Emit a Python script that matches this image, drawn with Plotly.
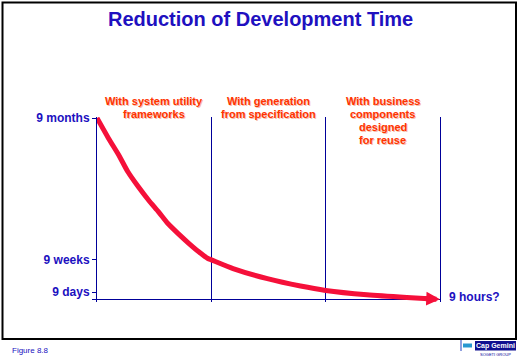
import plotly.graph_objects as go

# ---------------- data ----------------
phase_x = [0.5, 1.5, 2.5]
phase_labels = [
    ["With system utility", "frameworks"],
    ["With generation", "from specification"],
    ["With business", "components", "designed", "for reuse"],
]
boundary_x = [1, 2]
level_vals = [270, 59, 11, 0]
level_text = ["9 months", "9 weeks", "9 days", ""]
curve_x = [0, 0.1, 0.19, 0.27, 0.36, 0.45, 0.54, 0.62, 0.71, 0.8, 0.89, 0.97, 1.0,
           1.19, 1.49, 1.78, 2.0, 2.36, 2.71, 2.9]
curve_y = [270, 240, 215, 190, 168, 148, 130, 113, 98, 84, 71, 61, 59,
           46, 31, 20, 13.5, 7, 3, 1.3]
end_label = "9 hours?"
title_text = "Reduction of Development Time"
figure_label = "Figure 8.8"

# ---------------- layout geometry (pixels) ----------------
W, H = 519, 359
L, R, T, B = 97, 440, 117, 302
X0, X1 = 0, 3
Y_BASE_PX, Y_TOP_PX, Y_TOP_VAL = 299.5, 118, 270
ppu = (Y_BASE_PX - Y_TOP_PX) / Y_TOP_VAL
y_min = -(B - Y_BASE_PX) / ppu
y_max = Y_TOP_VAL + (Y_TOP_PX - T) / ppu


def px_x(px):
    return (px - L) / (R - L)


def px_y(py):
    return (B - py) / (B - T)


FONT = "Liberation Sans, Arial, sans-serif"
BLUE = "#2010C0"
NAVY = "#000099"
RED_TXT = "#FF3300"
RED_LINE = "#F5103A"

fig = go.Figure()
fig.add_trace(go.Scatter(
    x=curve_x, y=curve_y, mode="lines",
    line=dict(color=RED_LINE, width=5, shape="spline", smoothing=0.6),
    hoverinfo="skip", showlegend=False,
))

annotations = []
# arrow head
annotations.append(dict(
    x=3.0, y=0.3, ax=2.85, ay=1.4, xref="x", yref="y", axref="x", ayref="y",
    text="", showarrow=True, arrowhead=2, arrowsize=0.55, arrowwidth=5,
    arrowcolor=RED_LINE, standoff=0,
))
# title
annotations.append(dict(
    x=px_x(260), y=px_y(19), xref="paper", yref="paper", text=title_text,
    showarrow=False, xanchor="center", yanchor="middle",
    font=dict(family=FONT, size=20, color=BLUE, weight="bold"),
))
# phase labels
for px_c, lines in zip(phase_x, phase_labels):
    for i, line in enumerate(lines):
        annotations.append(dict(
            x=px_c, y=px_y(101 + 13 * i), xref="x", yref="paper", text=line,
            showarrow=False, xanchor="center", yanchor="middle",
            font=dict(family=FONT, size=11, color=RED_TXT, weight="bold",
                      shadow="1px 1px 0px #F5C0B0"),
        ))
# end label
annotations.append(dict(
    x=px_x(447), y=px_y(297), xref="paper", yref="paper", text=end_label,
    showarrow=False, xanchor="left", yanchor="middle",
    font=dict(family=FONT, size=12, color=BLUE, weight="bold"),
))
# figure label
annotations.append(dict(
    x=px_x(10), y=px_y(350), xref="paper", yref="paper", text=figure_label,
    showarrow=False, xanchor="left", yanchor="middle",
    font=dict(family=FONT, size=8, color=BLUE),
))
# logo text
annotations.append(dict(
    x=px_x(495.5), y=px_y(345.5), xref="paper", yref="paper", text="Cap Gemini",
    showarrow=False, xanchor="center", yanchor="middle",
    font=dict(family=FONT, size=7, color="white", weight="bold"),
))
annotations.append(dict(
    x=px_x(495.5), y=px_y(354), xref="paper", yref="paper", text="SOGETI GROUP",
    showarrow=False, xanchor="center", yanchor="middle",
    font=dict(family=FONT, size=4, color=NAVY),
))

shapes = [
    # outer border
    dict(type="rect", xref="paper", yref="paper",
         x0=px_x(2.5), x1=px_x(516), y0=px_y(2.5), y1=px_y(339),
         line=dict(color="black", width=2), layer="below"),
    # logo pieces
    dict(type="line", xref="paper", yref="paper",
         x0=px_x(461), x1=px_x(461), y0=px_y(340), y1=px_y(351),
         line=dict(color="#2040C0", width=1)),
    dict(type="rect", xref="paper", yref="paper",
         x0=px_x(463), x1=px_x(472), y0=px_y(343.5), y1=px_y(347.5),
         line=dict(width=0), fillcolor="#2898D0"),
    dict(type="rect", xref="paper", yref="paper",
         x0=px_x(475), x1=px_x(516), y0=px_y(341), y1=px_y(350.5),
         line=dict(width=0), fillcolor="#101090"),
]

fig.update_layout(
    width=W, height=H,
    margin=dict(l=L, r=W - R, t=T, b=H - B, pad=0),
    paper_bgcolor="white", plot_bgcolor="white",
    showlegend=False,
    annotations=annotations, shapes=shapes,
    xaxis=dict(range=[X0, X1], tickvals=boundary_x, showticklabels=False,
               ticks="", showgrid=True, gridcolor=NAVY, gridwidth=1,
               zeroline=False, showline=False, fixedrange=True),
    yaxis=dict(range=[y_min, y_max], tickvals=level_vals, ticktext=level_text,
               ticks="outside", ticklen=4, tickcolor=NAVY, tickwidth=1,
               showline=True, linecolor=NAVY, linewidth=1, mirror=True,
               showgrid=False, zeroline=True, zerolinecolor=NAVY, zerolinewidth=1,
               tickfont=dict(family=FONT, size=12, color=BLUE, weight="bold"),
               fixedrange=True),
)

fig.write_html(
    "out.html",
    config={"displayModeBar": False},
    post_script="document.body.style.margin='0';document.body.style.overflow='hidden';",
)
